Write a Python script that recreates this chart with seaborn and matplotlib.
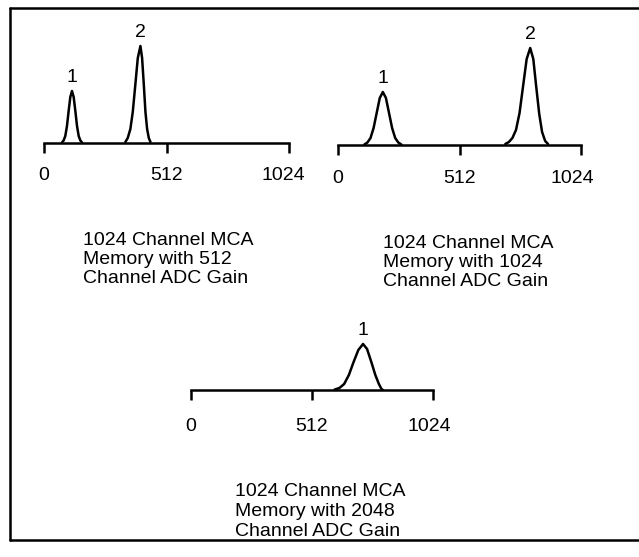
import matplotlib
matplotlib.use("Agg")
import matplotlib.pyplot as plt
from matplotlib.lines import Line2D
from matplotlib.transforms import ScaledTranslation
import pandas as pd
import seaborn as sns

# ---------------- data ----------------
tick_values = [0, 512, 1024]
tick_labels = ["0", "512", "1024"]

# Panel A: 1024 channel memory, 512 channel ADC gain
a_peak1_channel = [75, 82, 89, 96, 103, 110, 117, 124, 131, 138, 145, 152, 159]
a_peak1_counts = [0.5, 2.5, 7, 17, 32, 46, 52, 46, 32, 17, 7, 2.5, 0.5]
a_peak2_channel = [340, 350, 361, 371, 382, 392, 403, 410, 417, 424, 431, 438, 445]
a_peak2_counts = [1, 5, 14, 31, 59, 85, 97, 85, 59, 31, 14, 5, 1]

# Panel B: 1024 channel memory, 1024 channel ADC gain
b_peak1_channel = [111, 124, 137, 150, 163, 176, 189, 202, 215, 228, 241, 254, 267]
b_peak1_counts = [0.5, 2.5, 7, 17, 32, 47, 53, 47, 32, 17, 7, 2.5, 0.5]
b_peak2_channel = [705, 720, 735, 750, 765, 780, 795, 810, 823, 835, 848, 860, 873, 885]
b_peak2_counts = [1, 3, 7, 15, 32, 59, 86, 97, 86, 59, 31, 13, 4, 1]

# Panel C: 1024 channel memory, 2048 channel ADC gain
c_peak1_channel = [608, 628, 648, 668, 688, 708, 728, 745, 763, 780, 795, 806, 812]
c_peak1_counts = [0.5, 2, 6, 15, 28, 40, 46, 41, 28, 15, 6, 1, 0]

peak_labels = ["1", "2"]

caption_a = ["1024 Channel MCA", "Memory with 512", "Channel ADC Gain"]
caption_b = ["1024 Channel MCA", "Memory with 1024", "Channel ADC Gain"]
caption_c = ["1024 Channel MCA", "Memory with 2048", "Channel ADC Gain"]

rows = []
for panel, peak, chs, cts in [
    ("A", peak_labels[0], a_peak1_channel, a_peak1_counts),
    ("A", peak_labels[1], a_peak2_channel, a_peak2_counts),
    ("B", peak_labels[0], b_peak1_channel, b_peak1_counts),
    ("B", peak_labels[1], b_peak2_channel, b_peak2_counts),
    ("C", peak_labels[0], c_peak1_channel, c_peak1_counts),
]:
    for c, v in zip(chs, cts):
        rows.append({"panel": panel, "peak": peak, "channel": c, "counts": v})
df = pd.DataFrame(rows)

# ---------------- styling ----------------
sns.set_theme(style="white")
plt.rcParams["font.family"] = ["Liberation Sans", "DejaVu Sans"]

W, H = 639, 557
fig = plt.figure(figsize=(W / 100, H / 100), dpi=100)
fig.patch.set_facecolor("white")

AX_H = 130  # px, one data unit == one pixel


def fx(x):
    return x / W


def fy(y):
    return 1 - y / H


def make_axes(x0, x1, base, pad, last_shift):
    ax = fig.add_axes([fx(x0), fy(base), (x1 - x0) / W, AX_H / H])
    ax.set_facecolor("none")
    ax.set_xlim(0, 1024)
    ax.set_ylim(0, AX_H)
    for s in ["top", "left", "right"]:
        ax.spines[s].set_visible(False)
    ax.spines["bottom"].set_linewidth(1.8)
    ax.spines["bottom"].set_color("black")
    ax.set_yticks([])
    ax.set_xticks(tick_values)
    ax.set_xticklabels(tick_labels)
    ax.tick_params(axis="x", direction="out", length=7.5, width=1.8,
                   color="black", labelsize=14, pad=pad, labelcolor="black",
                   bottom=True)
    lab = ax.get_xticklabels()[-1]
    lab.set_transform(lab.get_transform() +
                      ScaledTranslation(last_shift / 100, 0, fig.dpi_scale_trans))
    return ax


panels = {
    "A": (44, 289, 143, 10, -6),
    "B": (338, 581, 145, 10.5, -9),
    "C": (191, 433, 390, 13, -4),
}

for key, (x0, x1, base, pad, shift) in panels.items():
    ax = make_axes(x0, x1, base, pad, shift)
    sub = df[df["panel"] == key]
    sns.lineplot(data=sub, x="channel", y="counts", units="peak",
                 estimator=None, sort=False, color="black", linewidth=1.8,
                 ax=ax, legend=False)
    for ln in ax.lines:
        ln.set_clip_on(False)
        ln.set_solid_joinstyle("round")
    ax.set_xlabel("")
    ax.set_ylabel("")
    for pk in sub["peak"].unique():
        s = sub[sub["peak"] == pk]
        i = s["counts"].idxmax()
        ax.text(s.loc[i, "channel"], s.loc[i, "counts"] + 9, pk,
                ha="center", va="baseline", fontsize=14, color="black",
                clip_on=False)

# captions
for lines, x, y0, dy in [
    (caption_a, 83, 245, 19),
    (caption_b, 383, 248, 19),
    (caption_c, 235, 496, 20),
]:
    for k, t in enumerate(lines):
        fig.text(fx(x), fy(y0 + k * dy), t, ha="left", va="baseline",
                 fontsize=14, color="black")

# frame (left, top, bottom)
lw = 1.8
fig.add_artist(Line2D([fx(10), fx(10)], [fy(8), fy(540)], transform=fig.transFigure,
                      color="black", linewidth=lw))
fig.add_artist(Line2D([fx(10), fx(639)], [fy(8), fy(8)], transform=fig.transFigure,
                      color="black", linewidth=lw))
fig.add_artist(Line2D([fx(10), fx(639)], [fy(540), fy(540)], transform=fig.transFigure,
                      color="black", linewidth=lw))

fig.savefig("out.png", dpi=100, facecolor="white")
